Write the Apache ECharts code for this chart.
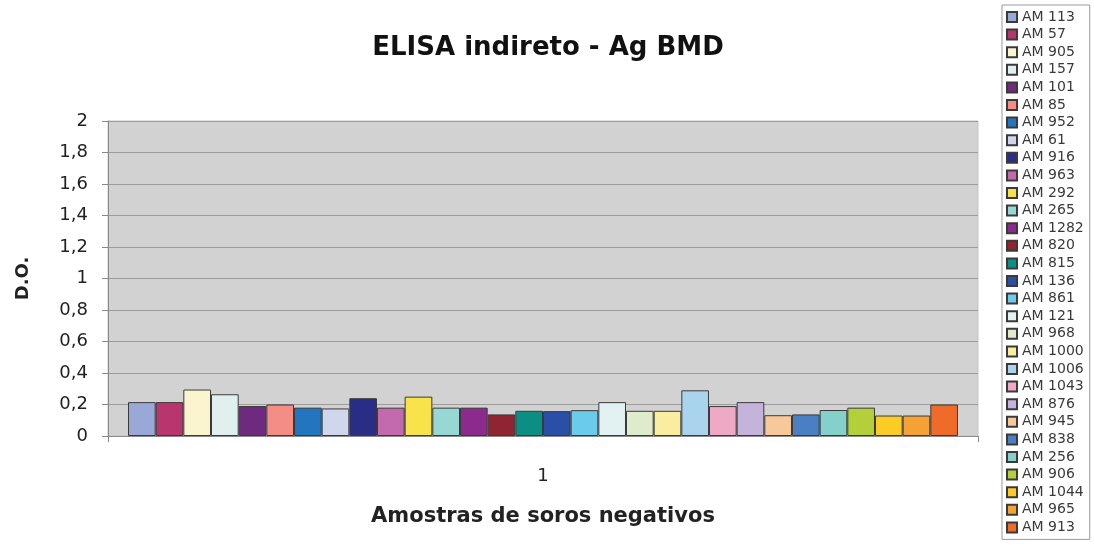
<!DOCTYPE html>
<html>
<head>
<meta charset="utf-8">
<title>ELISA indireto - Ag BMD</title>
<script src="https://cdn.jsdelivr.net/npm/echarts@6/dist/echarts.min.js"></script>
<style>
  html, body { margin: 0; padding: 0; background: #fff; }
  #chart { width: 1094px; height: 547px; }
</style>
</head>
<body>
<div id="chart"></div>
<script>
var categories = ['1']
var sampleNames = [
  'AM 113', 'AM 57', 'AM 905', 'AM 157', 'AM 101', 'AM 85', 'AM 952', 'AM 61',
  'AM 916', 'AM 963', 'AM 292', 'AM 265', 'AM 1282', 'AM 820', 'AM 815', 'AM 136',
  'AM 861', 'AM 121', 'AM 968', 'AM 1000', 'AM 1006', 'AM 1043', 'AM 876', 'AM 945',
  'AM 838', 'AM 256', 'AM 906', 'AM 1044', 'AM 965', 'AM 913'
]
var odValues = [
  0.215, 0.215, 0.295, 0.265, 0.19, 0.20, 0.18, 0.175,
  0.24, 0.18, 0.25, 0.18, 0.18, 0.137, 0.16, 0.158,
  0.164, 0.215, 0.16, 0.16, 0.29, 0.19, 0.215, 0.132,
  0.137, 0.165, 0.18, 0.13, 0.13, 0.20
]
var barColors = [
  '#9aa8d8', '#b9356e', '#fbf5cf', '#dff0ef', '#6e2a7f', '#f48d84', '#2276c0', '#d0d6ec',
  '#2a2d85', '#c36aae', '#f8e44a', '#98d8d4', '#8d2a8e', '#8e2530', '#0d8e85', '#2b4ea7',
  '#6acbea', '#e2f2f2', '#dfeccb', '#f9eea0', '#aad4ee', '#eeaac4', '#c4b4dc', '#f7c89a',
  '#4a7fc4', '#84d0ca', '#b3cf3a', '#fbcc26', '#f6a136', '#ef6b2a'
]
var yTicks = { min: 0, max: 2, interval: 0.2 }

var font = 'DejaVu Sans, Liberation Sans, sans-serif'

var series = sampleNames.map(function (name, i) {
  return {
    name: name,
    type: 'bar',
    data: [odValues[i]],
    barGap: '0%',
    barCategoryGap: '4.6%',
    itemStyle: {
      color: barColors[i],
      borderColor: '#3a3a3a',
      borderWidth: 1
    }
  }
})

var chart = echarts.init(document.getElementById('chart'))
var option = {
  backgroundColor: '#ffffff',
  animation: false,
  textStyle: { fontFamily: font },
  title: {
    text: 'ELISA indireto - Ag BMD',
    left: 543,
    textAlign: 'center',
    top: 30,
    textStyle: {
      fontFamily: font,
      fontSize: 26,
      fontWeight: 'bold',
      color: '#111'
    }
  },
  legend: {
    type: 'plain',
    orient: 'vertical',
    left: 1002,
    top: 5,
    width: 90,
    height: 532,
    padding: [5, 6, 5, 4],
    itemWidth: 10,
    itemHeight: 10,
    itemGap: 3.6,
    backgroundColor: '#ffffff',
    borderColor: '#9a9a9a',
    borderWidth: 1,
    icon: 'rect',
    textStyle: {
      fontFamily: font,
      fontSize: 14,
      lineHeight: 14,
      color: '#3a3a3a',
      padding: [0, 0, 0, 0]
    },
    data: sampleNames
  },
  grid: {
    left: 108,
    right: 116,
    top: 121,
    bottom: 111,
    show: true,
    backgroundColor: '#d2d2d2',
    borderColor: '#c4c4c4',
    borderWidth: 1
  },
  xAxis: {
    type: 'category',
    data: categories,
    name: 'Amostras de soros negativos',
    nameLocation: 'middle',
    nameGap: 70,
    nameTextStyle: {
      fontFamily: font,
      fontSize: 21,
      fontWeight: 'bold',
      color: '#222'
    },
    axisLine: { lineStyle: { color: '#8a8a8a', width: 1 } },
    axisTick: { show: true, length: 6, lineStyle: { color: '#8a8a8a' } },
    axisLabel: {
      margin: 31,
      fontFamily: font,
      fontSize: 18,
      color: '#222'
    }
  },
  yAxis: {
    type: 'value',
    min: yTicks.min,
    max: yTicks.max,
    interval: yTicks.interval,
    name: 'D.O.',
    nameLocation: 'middle',
    nameGap: 76,
    nameRotate: 90,
    nameTextStyle: {
      fontFamily: font,
      fontSize: 18,
      fontWeight: 'bold',
      color: '#222'
    },
    axisLine: { show: true, lineStyle: { color: '#8a8a8a', width: 1 } },
    axisTick: { show: true, length: 6, lineStyle: { color: '#8a8a8a' } },
    splitLine: { show: true, lineStyle: { color: '#9c9c9c', width: 1 } },
    axisLabel: {
      margin: 20,
      fontFamily: font,
      fontSize: 18,
      color: '#222',
      formatter: function (v) {
        return String(Math.round(v * 10) / 10).replace('.', ',')
      }
    }
  },
  series: series
}
chart.setOption(option)
</script>
</body>
</html>
